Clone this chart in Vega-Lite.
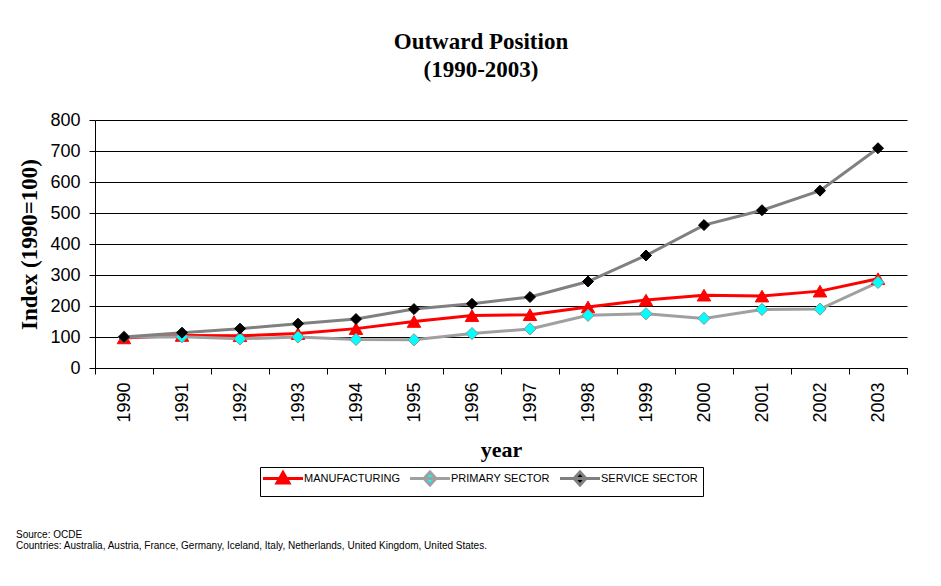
{
  "$schema": "https://vega.github.io/schema/vega-lite/v6.json",
  "background": "white",
  "padding": {"left": 15, "top": 31, "right": 10, "bottom": 10},
  "title": {
    "text": ["Source: OCDE", "Countries:  Australia, Austria, France, Germany, Iceland, Italy, Netherlands, United Kingdom, United States."],
    "orient": "bottom",
    "anchor": "start",
    "frame": "bounds",
    "font": "Liberation Sans",
    "fontSize": 10,
    "fontWeight": "normal",
    "lineHeight": 11.5,
    "color": "black",
    "offset": 33,
    "dx": -3
  },
  "config": {
    "view": {"stroke": null},
    "font": "Liberation Sans"
  },
  "vconcat": [
    {
      "title": {
        "text": ["Outward Position", "(1990-2003)"],
        "font": "Liberation Serif",
        "fontSize": 23,
        "fontWeight": "bold",
        "lineHeight": 28,
        "color": "black",
        "anchor": "middle",
        "frame": "group",
        "dx": -20,
        "offset": 29
      },
      "width": 812,
      "height": 248,
      "data": {
        "values": [
          {"year": "1990", "series": "MANUFACTURING", "value": 97},
          {"year": "1991", "series": "MANUFACTURING", "value": 105},
          {"year": "1992", "series": "MANUFACTURING", "value": 104},
          {"year": "1993", "series": "MANUFACTURING", "value": 111},
          {"year": "1994", "series": "MANUFACTURING", "value": 127},
          {"year": "1995", "series": "MANUFACTURING", "value": 150},
          {"year": "1996", "series": "MANUFACTURING", "value": 169},
          {"year": "1997", "series": "MANUFACTURING", "value": 172},
          {"year": "1998", "series": "MANUFACTURING", "value": 197},
          {"year": "1999", "series": "MANUFACTURING", "value": 219},
          {"year": "2000", "series": "MANUFACTURING", "value": 235},
          {"year": "2001", "series": "MANUFACTURING", "value": 232},
          {"year": "2002", "series": "MANUFACTURING", "value": 248},
          {"year": "2003", "series": "MANUFACTURING", "value": 288},
          {"year": "1990", "series": "PRIMARY SECTOR", "value": 100},
          {"year": "1991", "series": "PRIMARY SECTOR", "value": 101},
          {"year": "1992", "series": "PRIMARY SECTOR", "value": 94},
          {"year": "1993", "series": "PRIMARY SECTOR", "value": 100},
          {"year": "1994", "series": "PRIMARY SECTOR", "value": 92},
          {"year": "1995", "series": "PRIMARY SECTOR", "value": 91},
          {"year": "1996", "series": "PRIMARY SECTOR", "value": 111},
          {"year": "1997", "series": "PRIMARY SECTOR", "value": 126},
          {"year": "1998", "series": "PRIMARY SECTOR", "value": 170},
          {"year": "1999", "series": "PRIMARY SECTOR", "value": 175},
          {"year": "2000", "series": "PRIMARY SECTOR", "value": 160},
          {"year": "2001", "series": "PRIMARY SECTOR", "value": 189},
          {"year": "2002", "series": "PRIMARY SECTOR", "value": 190},
          {"year": "2003", "series": "PRIMARY SECTOR", "value": 276},
          {"year": "1990", "series": "SERVICE SECTOR", "value": 100},
          {"year": "1991", "series": "SERVICE SECTOR", "value": 114},
          {"year": "1992", "series": "SERVICE SECTOR", "value": 127},
          {"year": "1993", "series": "SERVICE SECTOR", "value": 143},
          {"year": "1994", "series": "SERVICE SECTOR", "value": 158},
          {"year": "1995", "series": "SERVICE SECTOR", "value": 190},
          {"year": "1996", "series": "SERVICE SECTOR", "value": 207},
          {"year": "1997", "series": "SERVICE SECTOR", "value": 229},
          {"year": "1998", "series": "SERVICE SECTOR", "value": 279},
          {"year": "1999", "series": "SERVICE SECTOR", "value": 363},
          {"year": "2000", "series": "SERVICE SECTOR", "value": 461},
          {"year": "2001", "series": "SERVICE SECTOR", "value": 509},
          {"year": "2002", "series": "SERVICE SECTOR", "value": 572},
          {"year": "2003", "series": "SERVICE SECTOR", "value": 709}
        ]
      },
      "encoding": {
        "x": {
          "field": "year",
          "type": "ordinal",
          "bandPosition": 0.5,
          "scale": {"type": "band", "paddingInner": 0, "paddingOuter": 0},
          "axis": {
            "title": "year",
            "titleFont": "Liberation Serif",
            "titleFontSize": 22,
            "titleFontWeight": "bold",
            "titleColor": "black",
            "titlePadding": 17,
            "labelAngle": 270,
            "labelFont": "Liberation Sans",
            "labelFontSize": 18,
            "labelColor": "black",
            "labelPadding": 8,
            "tickBand": "extent",
            "tickSize": 6,
            "tickColor": "black",
            "domainColor": "black",
            "grid": false
          }
        },
        "y": {
          "field": "value",
          "type": "quantitative",
          "scale": {"domain": [0, 800], "nice": false},
          "axis": {
            "title": "Index (1990=100)",
            "titleFont": "Liberation Serif",
            "titleFontSize": 23,
            "titleFontWeight": "bold",
            "titleColor": "black",
            "titlePadding": 8,
            "values": [0, 100, 200, 300, 400, 500, 600, 700, 800],
            "labelFont": "Liberation Sans",
            "labelFontSize": 18,
            "labelColor": "black",
            "labelPadding": 9,
            "tickSize": 6,
            "tickColor": "black",
            "domainColor": "black",
            "grid": true,
            "gridColor": "black",
            "gridWidth": 1,
            "gridOpacity": 1
          }
        }
      },
      "layer": [
        {
          "mark": {"type": "line", "strokeWidth": 3},
          "encoding": {
            "stroke": {
              "field": "series",
              "type": "nominal",
              "scale": {"domain": ["MANUFACTURING", "PRIMARY SECTOR", "SERVICE SECTOR"], "range": ["#ff0000", "#a0a0a0", "#808080"]},
              "legend": {
                "title": null,
                "orient": "none",
                "legendX": 165,
                "legendY": 347,
                "direction": "horizontal",
                "gridAlign": "none",
                "strokeColor": "black",
                "padding": 5,
                "labelFont": "Liberation Sans",
                "labelFontSize": 11,
                "labelColor": "black",
                "symbolSize": 100,
                "symbolStrokeWidth": 3,
                "labelOffset": 26,
                "columnPadding": 4,
                "encode": {
                  "symbols": {
                    "update": {
                      "x": {"value": 18},
                      "shape": {"signal": "datum.value === 'MANUFACTURING' ? 'M-4,0H4M0,-1.2L1.2,0.9L-1.2,0.9Z' : 'M-4,0H4M0,-1.3L1.2,0L0,1.3L-1.2,0Z'"},
                      "fill": {"signal": "datum.value === 'MANUFACTURING' ? '#ff0000' : datum.value === 'PRIMARY SECTOR' ? '#00ffff' : '#000000'"},
                      "fillOpacity": {"value": 1},
                      "strokeWidth": {"value": 3}
                    }
                  }
                }
              }
            }
          }
        },
        {
          "mark": {"type": "point", "filled": true, "opacity": 1, "strokeWidth": 1},
          "encoding": {
            "shape": {
              "field": "series",
              "type": "nominal",
              "scale": {"domain": ["MANUFACTURING", "PRIMARY SECTOR", "SERVICE SECTOR"], "range": ["triangle-up", "diamond", "diamond"]},
              "legend": null
            },
            "fill": {
              "field": "series",
              "type": "nominal",
              "scale": {"domain": ["MANUFACTURING", "PRIMARY SECTOR", "SERVICE SECTOR"], "range": ["#ff0000", "#00ffff", "#000000"]},
              "legend": null
            },
            "stroke": {
              "field": "series",
              "type": "nominal",
              "scale": {"domain": ["MANUFACTURING", "PRIMARY SECTOR", "SERVICE SECTOR"], "range": ["#ff0000", "#909090", "#000000"]},
              "legend": null
            },
            "size": {
              "field": "series",
              "type": "nominal",
              "scale": {"domain": ["MANUFACTURING", "PRIMARY SECTOR", "SERVICE SECTOR"], "range": [180, 120, 200]},
              "legend": null
            }
          }
        }
      ],
      "resolve": {"scale": {"stroke": "independent"}}
    }
  ]
}
